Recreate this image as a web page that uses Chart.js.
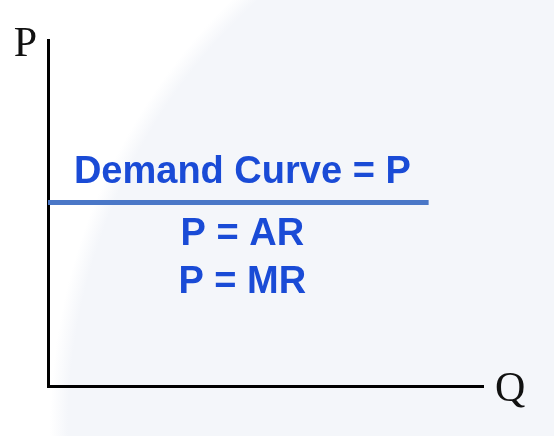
<!DOCTYPE html>
<html>
<head>
<meta charset="utf-8">
<script src="https://cdn.jsdelivr.net/npm/chart.js@4.4.1/dist/chart.umd.min.js"></script>
<style>
    html, body { margin: 0; padding: 0; }
    body {
        width: 554px; height: 436px; overflow: hidden;
        background: radial-gradient(circle 600px at 650px 430px, #f4f6fa 97%, #ffffff 100%);
    }
    .chartBox { position: relative; width: 554px; height: 436px; }
</style>
</head>
<body>
<div class="chartBox"><canvas id="demandChart"></canvas></div>
<script>
// data
var quantities = [0, 8.75];
var prices = [5.3, 5.3];
var curveLabels = ['Demand Curve = P', 'P = AR', 'P = MR'];
var axisTitles = ['P', 'Q'];

var points = quantities.map(function (q, i) { return { x: q, y: prices[i] }; });

// labels for the axes and the demand line
var labelPlugin = {
    id: 'labelPlugin',
    afterDatasetsDraw: function (chart) {
        var ctx = chart.ctx;
        var area = chart.chartArea;
        var xs = chart.scales.x, ys = chart.scales.y;
        ctx.save();

        ctx.fillStyle = '#111';
        ctx.font = '42px "Liberation Serif", "DejaVu Serif", serif';
        ctx.textBaseline = 'alphabetic';
        ctx.textAlign = 'right';
        ctx.fillText(axisTitles[0], area.left - 11, area.top + 16);
        ctx.textAlign = 'left';
        ctx.fillText(axisTitles[1], area.right + 12, area.bottom + 15);

        var midX = xs.getPixelForValue((quantities[0] + quantities[quantities.length - 1]) / 2) + 4;
        var lineY = ys.getPixelForValue(prices[0]);
        var offsets = [-20, 42, 90];
        ctx.fillStyle = '#1a4bd6';
        ctx.font = 'bold 38px "Liberation Sans", Arial, sans-serif';
        ctx.textAlign = 'center';
        curveLabels.forEach(function (txt, i) {
            ctx.fillText(txt, midX, lineY + offsets[i]);
        });
        ctx.restore();
    }
};

new Chart(document.getElementById('demandChart'), {
    type: 'line',
    data: {
        datasets: [{
            label: curveLabels[0],
            data: points,
            borderColor: '#4a77c7',
            borderWidth: 5,
            pointRadius: 0,
            fill: false
        }]
    },
    options: {
        responsive: true,
        maintainAspectRatio: false,
        animation: false,
        layout: { padding: { left: 48, top: 40, right: 71, bottom: 50 } },
        plugins: { legend: { display: false }, tooltip: { enabled: false } },
        scales: {
            x: {
                type: 'linear', min: 0, max: 10,
                grid: { display: false, drawTicks: false },
                ticks: { display: false },
                border: { display: true, color: '#000', width: 3 }
            },
            y: {
                type: 'linear', min: 0, max: 10,
                grid: { display: false, drawTicks: false },
                ticks: { display: false },
                border: { display: true, color: '#000', width: 3 }
            }
        }
    },
    plugins: [labelPlugin]
});
</script>
</body>
</html>
